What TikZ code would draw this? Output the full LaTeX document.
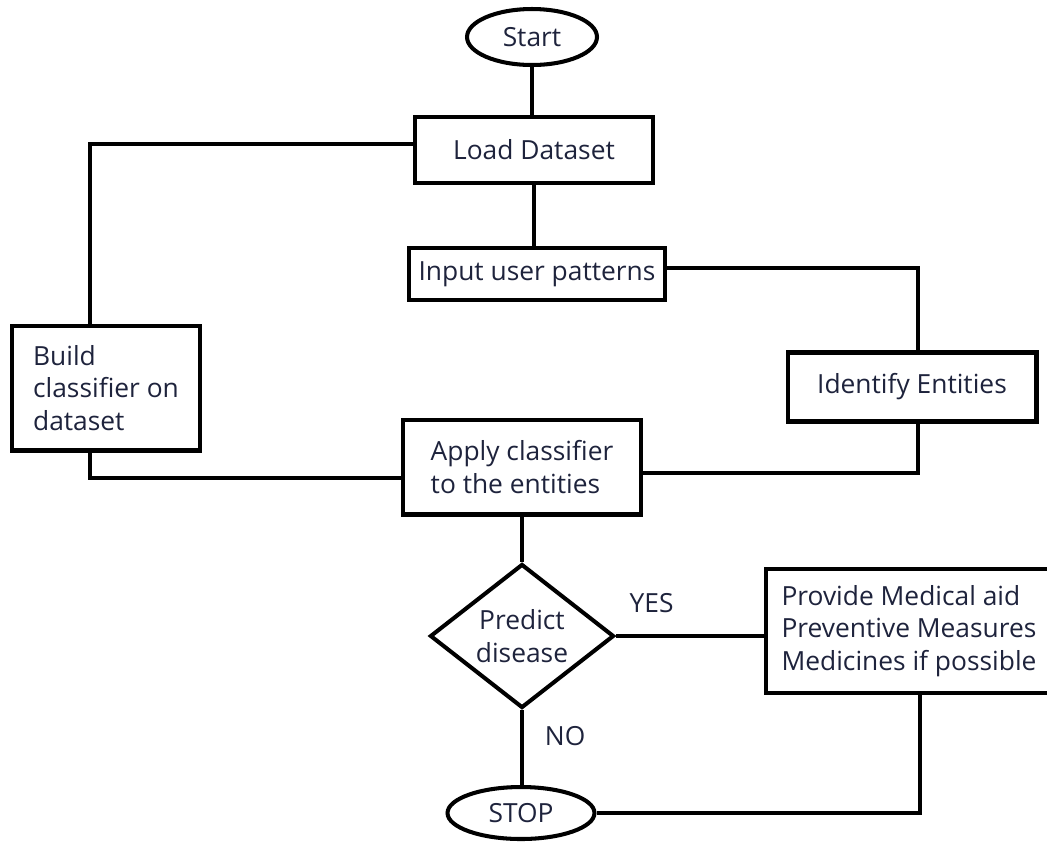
\documentclass[tikz,border=0pt]{standalone}
\usepackage{fontspec}
\setmainfont{Open Sans}
\usepackage{tikz}
\usepackage{xcolor}
\usetikzlibrary{shapes.geometric}
\definecolor{inkblue}{RGB}{30,35,60}
\tikzstyle{block} = [rectangle, draw=black, line width=2.3pt, align=left, text=inkblue, inner sep=0pt]
\tikzstyle{term} = [ellipse, draw=black, line width=2.3pt, text=inkblue, inner sep=0pt]
\tikzstyle{decision} = [diamond, draw=black, line width=2.3pt, align=center, text=inkblue, inner sep=0pt, aspect=1.28]
\tikzstyle{conn} = [line width=2.3pt, draw=black]

\begin{document}
\begin{tikzpicture}[x=0.02cm, y=-0.02cm, font=\fontsize{15pt}{18.5pt}\selectfont]
\useasboundingbox (0,0) rectangle (1047,843);
\node (start) [term, minimum width=2.6cm, minimum height=1.12cm] at (532,37) {Start};
\node (load) [block, minimum width=4.76cm, minimum height=1.32cm] at (534,150) {Load Dataset};
\node (input) [block, minimum width=5.12cm, minimum height=1.04cm] at (537,274) {Input user patterns};
\node (build) [block, minimum width=3.76cm, minimum height=2.5cm] at (106,388) {Build\\classifier on\\dataset};
\node (ident) [block, minimum width=4.98cm, minimum height=1.38cm] at (912,387) {Identify Entities};
\node (apply) [block, minimum width=4.76cm, minimum height=1.9cm] at (522,467) {Apply classifier\\to the entities};
\node (predict) [decision, minimum width=3.68cm, minimum height=2.88cm] at (522,636) {Predict\\disease};
\node (provide) [block, minimum width=5.72cm, minimum height=2.48cm] at (909,631) {Provide Medical aid\\Preventive Measures\\Medicines if possible};
\node (stop) [term, minimum width=2.94cm, minimum height=1.04cm] at (521,813) {STOP};
\draw [conn] (start.south) -- (start.south |- load.north);
\draw [conn] (load.south) -- (load.south |- input.north);
\draw [conn] ([yshift=0.12cm]load.west) -| ([xshift=-0.32cm]build.north);
\draw [conn] ([xshift=-0.32cm]build.south) |- ([yshift=-0.22cm]apply.west);
\draw [conn] ([yshift=0.12cm]input.east) -| ([xshift=0.12cm]ident.north);
\draw [conn] ([xshift=0.12cm]ident.south) |- ([yshift=-0.12cm]apply.east);
\draw [conn] (apply.south) -- (predict.north);
\draw [conn] (predict.east) -- node[pos=0.24, above=0.3cm, text=inkblue] (yes) {YES} (predict.east -| provide.west);
\draw [conn] (predict.south) -- node[pos=0.35, right=0.3cm, text=inkblue] (no) {NO} (predict.south |- stop.north);
\draw [conn] ([xshift=0.22cm]provide.south) |- (stop.east);
\end{tikzpicture}
\end{document}
